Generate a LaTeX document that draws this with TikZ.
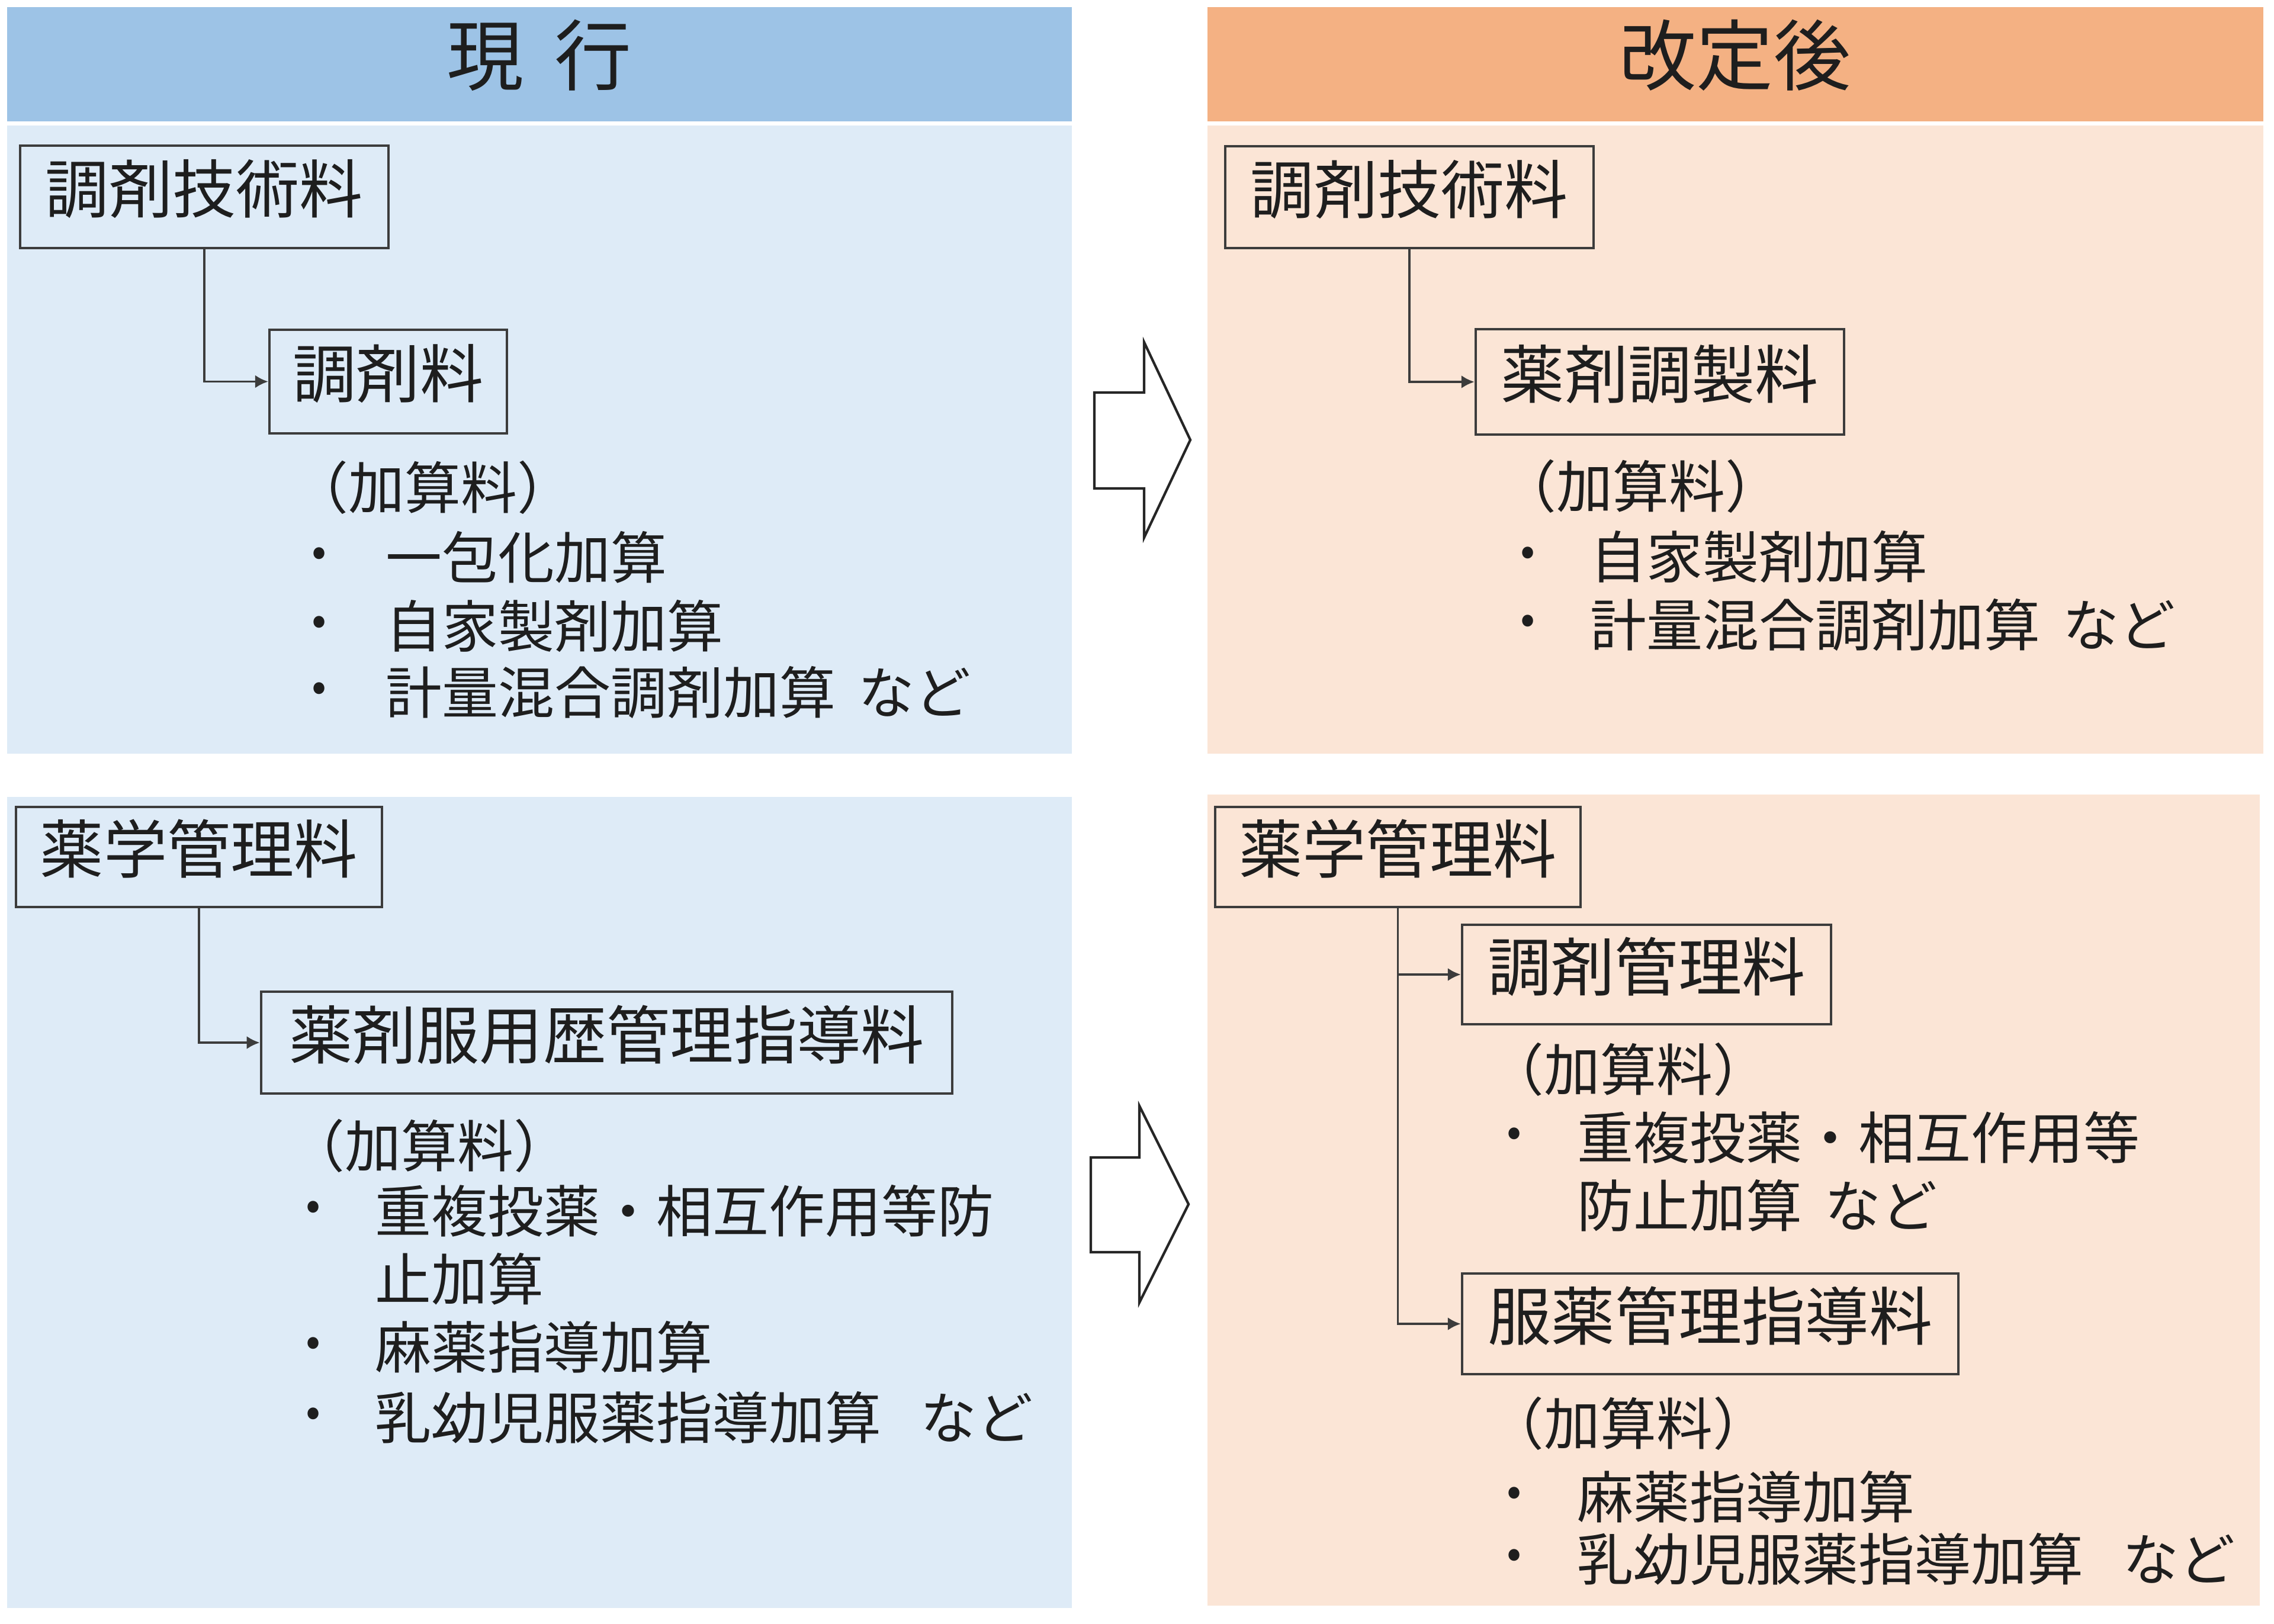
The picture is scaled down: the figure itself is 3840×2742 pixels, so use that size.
\documentclass[tikz,border=0pt]{standalone}
\usepackage{fontspec}
\setmainfont{Noto Sans CJK JP}
\usetikzlibrary{arrows.meta}
\definecolor{hdrblue}{HTML}{9DC3E6}
\definecolor{panblue}{HTML}{DEEBF7}
\definecolor{hdrorg}{HTML}{F4B183}
\definecolor{panorg}{HTML}{FBE5D6}
\definecolor{inkc}{HTML}{1E1E1E}
\definecolor{edgec}{HTML}{3C3C3C}
\begin{document}
\begin{tikzpicture}[x=0.01cm,y=-0.01cm,
  hdrtext/.style={inner sep=0, text=inkc, font={\fontsize{37}{44}\selectfont\spaceskip=0.4em\relax}},
  fee/.style={draw=edgec, line width=1.1pt, inner sep=0, text=inkc,
    font={\fontsize{30.5}{36}\selectfont}, text height=0.9cm, text depth=0.36cm},
  itm/.style={anchor=west, inner sep=0, text=inkc, font={\fontsize{27}{32}\selectfont\spaceskip=0.4em\relax}},
  paren/.style={anchor=center, inner sep=0, text=inkc, font={\fontsize{27}{32}\selectfont}},
  bul/.style={anchor=center, inner sep=0, text=inkc, font={\fontsize{21}{25}\selectfont}},
  link/.style={draw=edgec, line width=1.1pt, -{Latex[length=0.22cm,width=0.22cm]}},
  bigarrow/.style={draw=black!85, line width=1.2pt, fill=white, line join=miter}
]
\useasboundingbox (0,0) rectangle (3840,2742);
\fill[white] (0,0) rectangle (3840,2742);
% panels
\fill[hdrblue] (12,12) rectangle (1810,205);
\fill[panblue] (12,212) rectangle (1810,1273);
\fill[panblue] (12,1346) rectangle (1810,2716);
\fill[hdrorg] (2039,12) rectangle (3822,205);
\fill[panorg] (2039,212) rectangle (3822,1273);
\fill[panorg] (2039,1342) rectangle (3816,2712);
% headers
\node[hdrtext] (h1) at (911,93) {現 行};
\node[hdrtext] (h2) at (2930,93) {改定後};
% big arrows
\draw[bigarrow] (1848,663) -- (1932,663) -- (1932,578) -- (2010,743) -- (1932,908) -- (1932,825) -- (1848,825) -- cycle;
\draw[bigarrow] (1842,1955) -- (1924,1955) -- (1924,1868) -- (2007,2034) -- (1924,2200) -- (1924,2115) -- (1842,2115) -- cycle;
% left top
\node[fee, minimum width=6.22cm, minimum height=1.73cm] (a1) at (345,332.5) {調剤技術料};
\node[fee, minimum width=4.01cm, minimum height=1.75cm] (a2) at (655.5,644.5) {調剤料};
\draw[link] (a1.south) |- (a2.west);
\node[paren] (ap) at (731,823) {（加算料）};
\node[bul] (ab1) at (539,941) {•};
\node[itm] (ai1) at (651,941) {一包化加算};
\node[bul] (ab2) at (539,1057) {•};
\node[itm] (ai2) at (651,1057) {自家製剤加算};
\node[bul] (ab3) at (539,1169) {•};
\node[itm] (ai3) at (651,1169) {計量混合調剤加算 など};
% left bottom
\node[fee, minimum width=6.18cm, minimum height=1.69cm] (b1) at (336,1447.5) {薬学管理料};
\node[fee, minimum width=11.67cm, minimum height=1.72cm] (b2) at (1024.5,1761) {薬剤服用歴管理指導料};
\draw[link] (b1.south) |- (b2.west);
\node[paren] (bp) at (725,1935) {（加算料）};
\node[bul] (bb1) at (529,2045) {•};
\node[itm] (bi1) at (633,2045) {重複投薬・相互作用等防};
\node[itm] (bi1b) at (633,2160) {止加算};
\node[bul] (bb2) at (529,2275) {•};
\node[itm] (bi2) at (633,2275) {麻薬指導加算};
\node[bul] (bb3) at (529,2394) {•};
\node[itm] (bi3) at (633,2394) {乳幼児服薬指導加算　\kern-0.3emなど};
% right top
\node[fee, minimum width=6.22cm, minimum height=1.72cm] (c1) at (2380,333) {調剤技術料};
\node[fee, minimum width=6.22cm, minimum height=1.78cm] (c2) at (2803,645) {薬剤調製料};
\draw[link] (c1.south) |- (c2.west);
\node[paren] (cp) at (2771,821) {（加算料）};
\node[bul] (cb1) at (2580,940) {•};
\node[itm] (ci1) at (2685,940) {自家製剤加算};
\node[bul] (cb2) at (2580,1055) {•};
\node[itm] (ci2) at (2685,1055) {計量混合調剤加算 など};
% right bottom
\node[fee, minimum width=6.17cm, minimum height=1.69cm] (d1) at (2360.5,1447.5) {薬学管理料};
\node[fee, minimum width=6.23cm, minimum height=1.68cm] (d2) at (2780.5,1646) {調剤管理料};
\node[fee, minimum width=8.38cm, minimum height=1.70cm] (d3) at (2888,2236) {服薬管理指導料};
\draw[link] (d1.south) |- (d3.west);
\draw[link] (d1.south |- d2.west) -- (d2.west);
\node[paren] (dp1) at (2750,1806) {（加算料）};
\node[bul] (db1) at (2557,1921) {•};
\node[itm] (di1) at (2663,1921) {重複投薬・相互作用等};
\node[itm] (di1b) at (2663,2036) {防止加算 など};
\node[paren] (dp2) at (2750,2404) {（加算料）};
\node[bul] (db2) at (2557,2528) {•};
\node[itm] (di2) at (2663,2528) {麻薬指導加算};
\node[bul] (db3) at (2557,2633) {•};
\node[itm] (di3) at (2663,2633) {乳幼児服薬指導加算　\kern-0.3emなど};
\end{tikzpicture}
\end{document}
